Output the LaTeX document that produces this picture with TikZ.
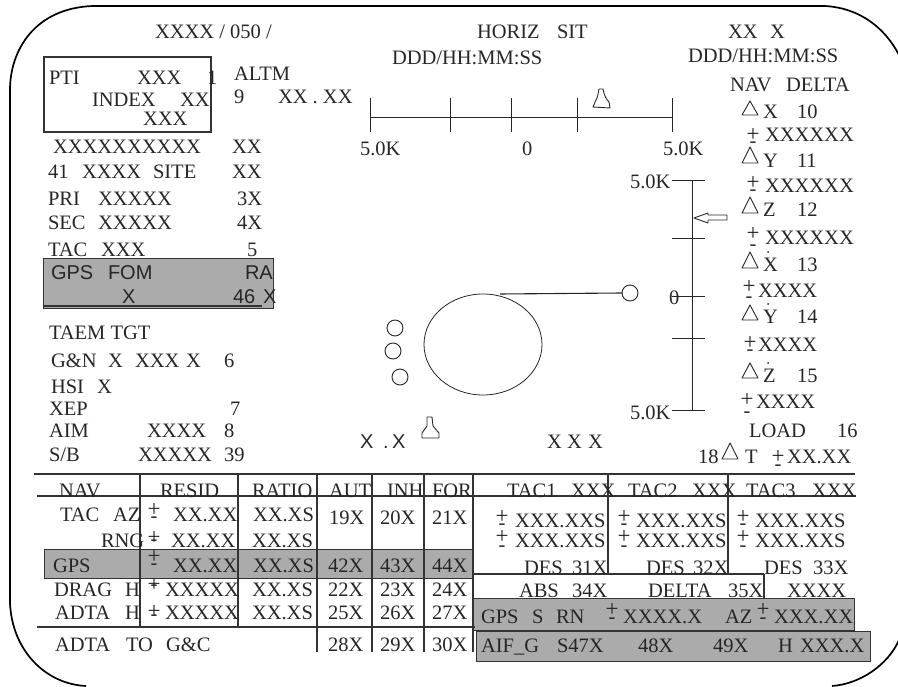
\documentclass[tikz,border=0pt]{standalone}
\usepackage{fontspec}
\setmainfont{Liberation Serif}
\setsansfont{Liberation Sans}
\newcounter{txtn}
\tikzset{
  txt/.style={anchor=base west,inner sep=0pt,outer sep=0pt,text=black!85,font=\fontsize{20.5}{22}\selectfont},
  stxt/.style={txt,font=\sffamily\fontsize{20}{22}\selectfont},
  ptxt/.style={txt,anchor=center,font=\fontsize{23}{24}\selectfont},
  rule/.style={draw=black!80,line width=1.1pt},
  frame/.style={draw=black,line width=1.7pt},
  shade/.style={fill=black!33,draw=black!80,line width=1pt},
  thin/.style={draw=black!85,line width=0.9pt},
}
\newcommand{\T}[3]{\stepcounter{txtn}\node[txt] (t\thetxtn) at (#1,#2) {#3};}
\newcommand{\Ts}[3]{\stepcounter{txtn}\node[stxt] (t\thetxtn) at (#1,#2) {#3};}
% plus and minus: centre x, centre y of plus, centre y of minus
\newcommand{\Pm}[3]{\stepcounter{txtn}\node[ptxt] (t\thetxtn) at (#1,#2) {+};\stepcounter{txtn}\node[txt,anchor=center] (t\thetxtn) at (#1,#3) {-};}
\newcommand{\Tri}[3]{\draw[thin,line join=round] (#1-8,#3) -- (#1,#2) -- (#1+8,#3) -- cycle;}
\begin{document}
\begin{tikzpicture}[x=1pt,y=-1pt]
\useasboundingbox (0,0) rectangle (898,687);
\clip (0,0) rectangle (898,687);
% frame
\draw[frame] (86,686) .. controls (45,684) and (12,650) .. (10,603) -- (10,90) .. controls (10,50) and (35,8) .. (93,6) -- (825,6) .. controls (860,8) and (885,28) .. (899,55);
\draw[frame] (832,686) .. controls (860,684) and (888,665) .. (899,640);
% shaded bands
\path[shade] (43,259) rectangle (273,309);
\draw[rule,line width=1.4pt] (43,306) -- (262,306);
\path[shade] (44,549) rectangle (473,578);
\path[shade] (473,598) rectangle (854,630);
\path[shade] (476,631) rectangle (870,661);
% PTI box
\draw[rule] (44,57) rectangle (211,132);
% header
\T{155}{39}{XXXX / 050 /}
\T{392}{65}{DDD/HH:MM:SS}
\T{477}{39}{HORIZ}\T{557}{39}{SIT}
\T{728}{39}{XX}\T{770}{39}{X}
\T{688}{63}{DDD/HH:MM:SS}
% left column
\T{49}{85}{PTI}\T{137}{85}{XXX}\T{207}{85}{1}
\T{92}{107}{INDEX}\T{180}{107}{XX}
\T{143}{126}{XXX}
\T{234}{81}{ALTM}
\T{234}{104}{9}\T{278}{104}{XX . XX}
\T{53}{154}{XXXXXXXXXX}\T{232}{154}{XX}
\T{48}{179}{41}\T{82}{179}{XXXX}\T{153}{179}{SITE}\T{232}{179}{XX}
\T{48}{206}{PRI}\T{98}{206}{XXXXX}\T{237}{206}{3X}
\T{48}{230}{SEC}\T{98}{230}{XXXXX}\T{237}{230}{4X}
\T{48}{257}{TAC}\T{101}{257}{XXX}\T{247}{257}{5}
\Ts{51}{280}{GPS}\Ts{108}{280}{FOM}\Ts{245}{280}{RA}
\Ts{122}{304}{X}\Ts{233}{304}{46}\Ts{263}{304}{X}
\T{49}{340}{TAEM TGT}
\T{51}{367}{G\&N}\T{108}{367}{X}\T{135}{367}{XXX}\T{186}{367}{X}\T{224}{367}{6}
\T{51}{393}{HSI}\T{97}{393}{X}
\T{49}{416}{XEP}\T{230}{416}{7}
\T{49}{438}{AIM}\T{147}{438}{XXXX}\T{224}{438}{8}
\T{49}{461}{S/B}\T{138}{461}{XXXXX}\T{224}{461}{39}
% horizontal scale
\draw[thin] (370,117) -- (672,117);
\foreach \x in {370,450,511,577,672} \draw[thin] (\x,98) -- (\x,132);
\T{360}{156}{5.0K}\T{522}{156}{0}\T{663}{156}{5.0K}
% top shuttle
\draw[thin,line join=round] (599,89) -- (603,89) .. controls (604,95) and (606,99) .. (609,102) -- (610,108) -- (593,107) -- (596,100) .. controls (598,97) and (598,93) .. (599,89);
% vertical scale
\draw[thin] (692,180) -- (692,410);
\foreach \y in {180,238,296,338,410} \draw[thin] (672,\y) -- (705,\y);
\T{630}{189}{5.0K}\T{669}{305}{0}\T{630}{419}{5.0K}
\draw[thin,line join=round] (694,218) -- (708,213) -- (708,215) -- (727,215) -- (727,220) -- (708,220) -- (708,223) -- cycle;
% nav delta
\T{730}{92}{NAV}\T{786}{92}{DELTA}
\Tri{750}{101}{115}\T{763}{119}{X}\T{797}{119}{10}
\Pm{753}{135}{145}\T{765}{142}{XXXXXX}
\Tri{750}{147}{163}\T{763}{168}{Y}\T{797}{168}{11}
\Pm{753}{183}{193}\T{765}{193}{XXXXXX}
\Tri{750}{197}{213}\T{763}{217}{Z}\T{797}{217}{12}
\Pm{753}{234}{248}\T{765}{245}{XXXXXX}
\Tri{750}{252}{268}\T{763}{272}{X}\T{797}{272}{13}
\fill[black!85] (768,252) circle (1);
\Pm{749}{287}{300}\T{758}{298}{XXXX}
\Tri{750}{305}{320}\T{763}{324}{Y}\T{797}{324}{14}
\fill[black!85] (768,304) circle (1);
\Pm{750}{343}{353}\T{758}{352}{XXXX}
\Tri{750}{363}{378}\T{763}{382}{Z}\T{797}{382}{15}
\fill[black!85] (768,363) circle (1);
\Pm{747}{400}{415}\T{756}{409}{XXXX}
\T{749}{437}{LOAD}\T{837}{437}{16}
\T{698}{464}{18}\Tri{730}{443}{459}\T{745}{464}{T}
\Pm{778}{457}{468}\T{787}{464}{XX.XX}
% situation plot
\draw[thin,line width=0.8pt] (483,344.5) ellipse (59 and 50.5);
\draw[thin,line width=1.1pt] (500,294) -- (622,293);
\node[draw=black!85,line width=0.9pt,circle,minimum size=16pt,inner sep=0pt] (wpa) at (630,293) {};
\node[draw=black!85,line width=0.9pt,circle,minimum size=16pt,inner sep=0pt] (wpb) at (395,328) {};
\node[draw=black!85,line width=0.9pt,circle,minimum size=16pt,inner sep=0pt] (wpc) at (393,351) {};
\node[draw=black!85,line width=0.9pt,circle,minimum size=16pt,inner sep=0pt] (wpd) at (400,377) {};
\Ts{360}{449}{X}\Ts{383}{449}{.}\Ts{392}{449}{X}
\draw[thin,line join=round] (427,417) -- (432,417) -- (433,426) -- (439,433) -- (439,438) -- (422,438) -- (422,433) -- (427,426) -- cycle;
\T{547}{449}{X}\T{567}{449}{X}\T{588}{449}{X}
% table rules
\draw[rule] (34,474) -- (855,474);
\draw[rule] (37,496) -- (856,496);
\draw[rule] (37,627) -- (475,627);
\foreach \x in {140,238} \draw[rule] (\x,474) -- (\x,627);
\foreach \x in {317,372,424,473} \draw[rule] (\x,474) -- (\x,652);
\foreach \x in {608,728} \draw[rule] (\x,474) -- (\x,574);
\draw[rule] (473,574) -- (764,574);
\draw[rule] (764,574) -- (764,598);
% table header
\T{59}{497}{NAV}\T{160}{497}{RESID}\T{252}{497}{RATIO}\T{329}{497}{AUT}\T{387}{497}{INH}\T{432}{497}{FOR}
\T{507}{497}{TAC1}\T{571}{497}{XXX}\T{628}{497}{TAC2}\T{692}{497}{XXX}\T{746}{497}{TAC3}\T{812}{497}{XXX}
% table left rows
\T{60}{521}{TAC}\T{113}{521}{AZ}\Pm{154}{510}{520}\T{173}{521}{XX.XX}\T{253}{521}{XX.XS}
\T{329}{524}{19X}\T{380}{524}{20X}\T{432}{524}{21X}
\T{101}{547}{RNG}\Pm{154}{538}{543}\T{171}{547}{XX.XX}\T{252}{547}{XX.XS}
\T{53}{572}{GPS}\Pm{154}{557}{567}\T{173}{572}{XX.XX}\T{253}{572}{XX.XS}
\T{328}{572}{42X}\T{380}{572}{43X}\T{432}{572}{44X}
\T{54}{596}{DRAG}\T{125}{596}{H}\Pm{154}{585}{588}\T{165}{596}{XXXXX}\T{252}{596}{XX.XS}
\T{328}{596}{22X}\T{380}{596}{23X}\T{432}{596}{24X}
\T{55}{619}{ADTA}\T{125}{619}{H}\Pm{154}{612}{618}\T{165}{619}{XXXXX}\T{252}{619}{XX.XS}
\T{328}{619}{25X}\T{380}{619}{26X}\T{432}{619}{27X}
\T{55}{651}{ADTA}\T{126}{651}{TO}\T{166}{651}{G\&C}
\T{328}{651}{28X}\T{380}{651}{29X}\T{432}{651}{30X}
% table right rows
\Pm{502}{517}{527}\T{515}{527}{XXX.XXS}\Pm{624}{517}{527}\T{636}{527}{XXX.XXS}\Pm{743}{517}{527}\T{755}{527}{XXX.XXS}
\Pm{502}{537}{549}\T{515}{547}{XXX.XXS}\Pm{624}{537}{549}\T{636}{547}{XXX.XXS}\Pm{743}{537}{549}\T{755}{547}{XXX.XXS}
\T{524}{574}{DES}\T{572}{574}{31X}\T{646}{574}{DES}\T{693}{574}{32X}\T{764}{574}{DES}\T{813}{574}{33X}
\T{519}{597}{ABS}\T{572}{597}{34X}\T{648}{597}{DELTA}\T{728}{597}{35X}\T{787}{597}{XXXX}
\T{481}{623}{GPS}\T{532}{623}{S}\T{556}{623}{RN}\Pm{612}{610}{621}\T{623}{623}{XXXX.X}
\T{725}{623}{AZ}\Pm{763}{610}{621}\T{774}{623}{XXX.XX}
\T{481}{652}{AIF\_G}\T{557}{652}{S47X}\T{638}{652}{48X}\T{713}{652}{49X}\T{778}{652}{H}\T{800}{652}{XXX.X}
\end{tikzpicture}
\end{document}
